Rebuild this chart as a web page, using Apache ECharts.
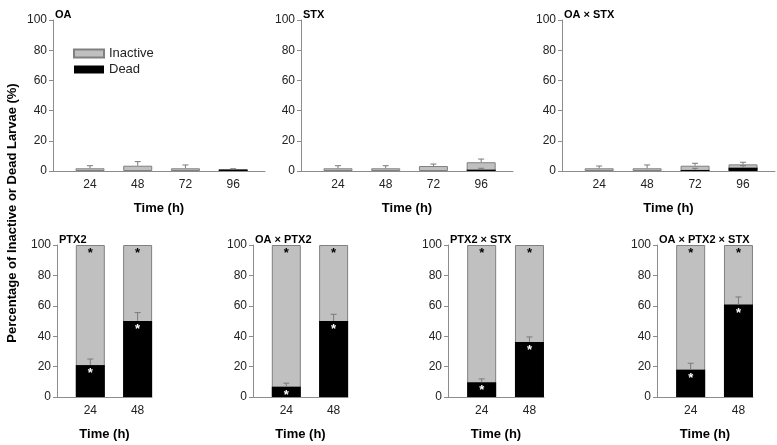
<!DOCTYPE html>
<html><head><meta charset="utf-8">
<script src="https://cdn.jsdelivr.net/npm/echarts@6/dist/echarts.min.js"></script>
<style>html,body{margin:0;padding:0;background:#fff}#c{width:777px;height:445px}</style>
</head><body><div id="c"></div>
<script>
// ---- data ----
const topHours = [24, 48, 72, 96];
const bottomHours = [24, 48];
const tickLabelsY = [0, 20, 40, 60, 80, 100];

const oaDead = [0, 0, 0, 1.0];
const oaInactive = [1.8, 3.5, 1.8, 0];
const oaErrDead = [0, 0, 0, 0.5];
const oaErrInactive = [1.7, 2.7, 2.2, 0];

const stxDead = [0, 0, 0, 0.9];
const stxInactive = [1.8, 1.8, 3.3, 4.9];
const stxErrDead = [0, 0, 0, 0.9];
const stxErrInactive = [1.7, 1.7, 1.3, 2.1];

const oaStxDead = [0, 0, 0.7, 2.2];
const oaStxInactive = [1.8, 1.8, 2.8, 2.2];
const oaStxErrDead = [0, 0, 1.1, 1.3];
const oaStxErrInactive = [1.5, 2.2, 1.6, 1.4];

const ptx2Dead = [21, 50];
const ptx2Inactive = [79, 50];
const ptx2ErrDead = [4, 5.5];

const oaPtx2Dead = [6.8, 50];
const oaPtx2Inactive = [93.2, 50];
const oaPtx2ErrDead = [2.3, 4.4];

const ptx2StxDead = [9.7, 36.2];
const ptx2StxInactive = [90.3, 63.8];
const ptx2StxErrDead = [2.2, 3.3];

const oaPtx2StxDead = [18, 60.8];
const oaPtx2StxInactive = [82, 39.2];
const oaPtx2StxErrDead = [4.2, 5.0];

const bottomSignificant = [true, true];

const panelTitles = ['OA', 'STX', 'OA \u00d7 STX', 'PTX2', 'OA \u00d7 PTX2', 'PTX2 \u00d7 STX', 'OA \u00d7 PTX2 \u00d7 STX'];

// ---- layout ----
const FONT = 'Liberation Sans, Arial, sans-serif';
const layouts = [
  {left: 53, top: 20, width: 212, height: 151, xmin: 5.4, xmax: 112},
  {left: 301, top: 20, width: 212, height: 151, xmin: 5.4, xmax: 112},
  {left: 562, top: 20, width: 213, height: 151, xmin: 5.4, xmax: 112},
  {left: 57, top: 245, width: 95, height: 152, xmin: 7.1, xmax: 55.3},
  {left: 253, top: 245, width: 95, height: 152, xmin: 7.1, xmax: 55.3},
  {left: 448, top: 245, width: 96, height: 152, xmin: 7.1, xmax: 55.3},
  {left: 657, top: 245, width: 96, height: 152, xmin: 7.1, xmax: 55.3}
];
const panelData = [
  {hours: topHours, dead: oaDead, inact: oaInactive, errD: oaErrDead, errI: oaErrInactive},
  {hours: topHours, dead: stxDead, inact: stxInactive, errD: stxErrDead, errI: stxErrInactive},
  {hours: topHours, dead: oaStxDead, inact: oaStxInactive, errD: oaStxErrDead, errI: oaStxErrInactive},
  {hours: bottomHours, dead: ptx2Dead, inact: ptx2Inactive, errD: ptx2ErrDead, sig: bottomSignificant},
  {hours: bottomHours, dead: oaPtx2Dead, inact: oaPtx2Inactive, errD: oaPtx2ErrDead, sig: bottomSignificant},
  {hours: bottomHours, dead: ptx2StxDead, inact: ptx2StxInactive, errD: ptx2StxErrDead, sig: bottomSignificant},
  {hours: bottomHours, dead: oaPtx2StxDead, inact: oaPtx2StxInactive, errD: oaPtx2StxErrDead, sig: bottomSignificant}
];

const AXIS_COLOR = '#8c8c8c';
const grids = [], xAxes = [], yAxes = [], series = [], titles = [];

function errRender(params, api) {
  const x = api.value(0), base = api.value(1), e = api.value(2);
  if (!e) return null;
  const p0 = api.coord([x, base]);
  const p1 = api.coord([x, base + e]);
  const style = {stroke: '#7a7a7a', lineWidth: 1};
  return {type: 'group', children: [
    {type: 'line', shape: {x1: p0[0], y1: p0[1], x2: p1[0], y2: p1[1]}, style},
    {type: 'line', shape: {x1: p1[0] - 3, y1: p1[1], x2: p1[0] + 3, y2: p1[1]}, style}
  ]};
}
function starRender(params, api) {
  const x = api.value(0), y = api.value(1), white = api.value(2);
  const p = api.coord([x, y]);
  return {type: 'text', x: p[0], y: p[1] + 2, style: {
    text: '*', fill: white ? '#fff' : '#000', font: 'bold 13px ' + FONT,
    align: 'center', verticalAlign: 'top'}};
}

layouts.forEach((L, i) => {
  const D = panelData[i];
  grids.push({left: L.left, top: L.top, width: L.width, height: L.height});
  titles.push({text: panelTitles[i], left: L.left + 2, top: L.top - 11, padding: 0,
    textStyle: {fontSize: 11, fontWeight: 'bold', color: '#000', fontFamily: FONT}});
  xAxes.push({type: 'value', gridIndex: i, min: L.xmin, max: L.xmax,
    name: 'Time (h)', nameLocation: 'middle', nameGap: 31,
    nameTextStyle: {fontSize: 13, fontWeight: 'bold', color: '#000', fontFamily: FONT},
    axisLine: {show: true, onZero: false, lineStyle: {color: AXIS_COLOR}},
    axisTick: {show: false},
    splitLine: {show: false},
    axisLabel: {customValues: D.hours, color: '#222', fontSize: 12, fontFamily: FONT, margin: 8}
  });
  yAxes.push({type: 'value', gridIndex: i, min: 0, max: 100, interval: 20,
    axisLine: {show: true, lineStyle: {color: AXIS_COLOR}},
    axisTick: {show: true, length: 4, lineStyle: {color: AXIS_COLOR}},
    splitLine: {show: false},
    axisLabel: {customValues: tickLabelsY, color: '#222', fontSize: 12, fontFamily: FONT, margin: 6}
  });
  series.push({type: 'bar', name: 'Inactive', xAxisIndex: i, yAxisIndex: i, barWidth: 29, barGap: '-100%', z: 2,
    itemStyle: {color: '#c0c0c0', borderColor: '#808080', borderWidth: 1},
    data: D.hours.map((h, k) => [h, D.dead[k] + D.inact[k]])});
  series.push({type: 'bar', name: 'Dead', xAxisIndex: i, yAxisIndex: i, barWidth: 29, barGap: '-100%', z: 3,
    itemStyle: {color: '#000'}, data: D.hours.map((h, k) => [h, D.dead[k]])});
  const errData = [];
  D.hours.forEach((h, k) => {
    errData.push([h, D.dead[k], D.errD[k]]);
    if (D.errI) errData.push([h, D.dead[k] + D.inact[k], D.errI[k]]);
  });
  series.push({type: 'custom', name: 'err' + i, xAxisIndex: i, yAxisIndex: i, z: 5,
    renderItem: errRender, data: errData, silent: true});
  if (D.sig) {
    const stars = [];
    D.hours.forEach((h, k) => {
      if (D.sig[k]) {
        stars.push([h, D.dead[k] + D.inact[k], 0]);
        stars.push([h, D.dead[k], 1]);
      }
    });
    series.push({type: 'custom', name: 'sig' + i, xAxisIndex: i, yAxisIndex: i, z: 6,
      renderItem: starRender, data: stars, silent: true});
  }
});

const chart = echarts.init(document.getElementById('c'), null, {renderer: 'canvas'});
chart.setOption({
  animation: false,
  backgroundColor: '#fff',
  title: titles,
  legend: {data: ['Inactive', 'Dead'], orient: 'vertical', left: 73, top: 47, padding: 0,
    icon: 'rect', itemWidth: 30, itemHeight: 8, itemGap: 3, selectedMode: false,
    textStyle: {fontSize: 13, color: '#222', fontFamily: FONT}},
  grid: grids, xAxis: xAxes, yAxis: yAxes, series: series,
  graphic: [{type: 'text', x: 12, y: 213, rotation: Math.PI / 2,
    style: {text: 'Percentage of Inactive or Dead Larvae (%)', font: 'bold 13px ' + FONT,
      fill: '#000', align: 'center', verticalAlign: 'middle'}}]
});
</script></body></html>
